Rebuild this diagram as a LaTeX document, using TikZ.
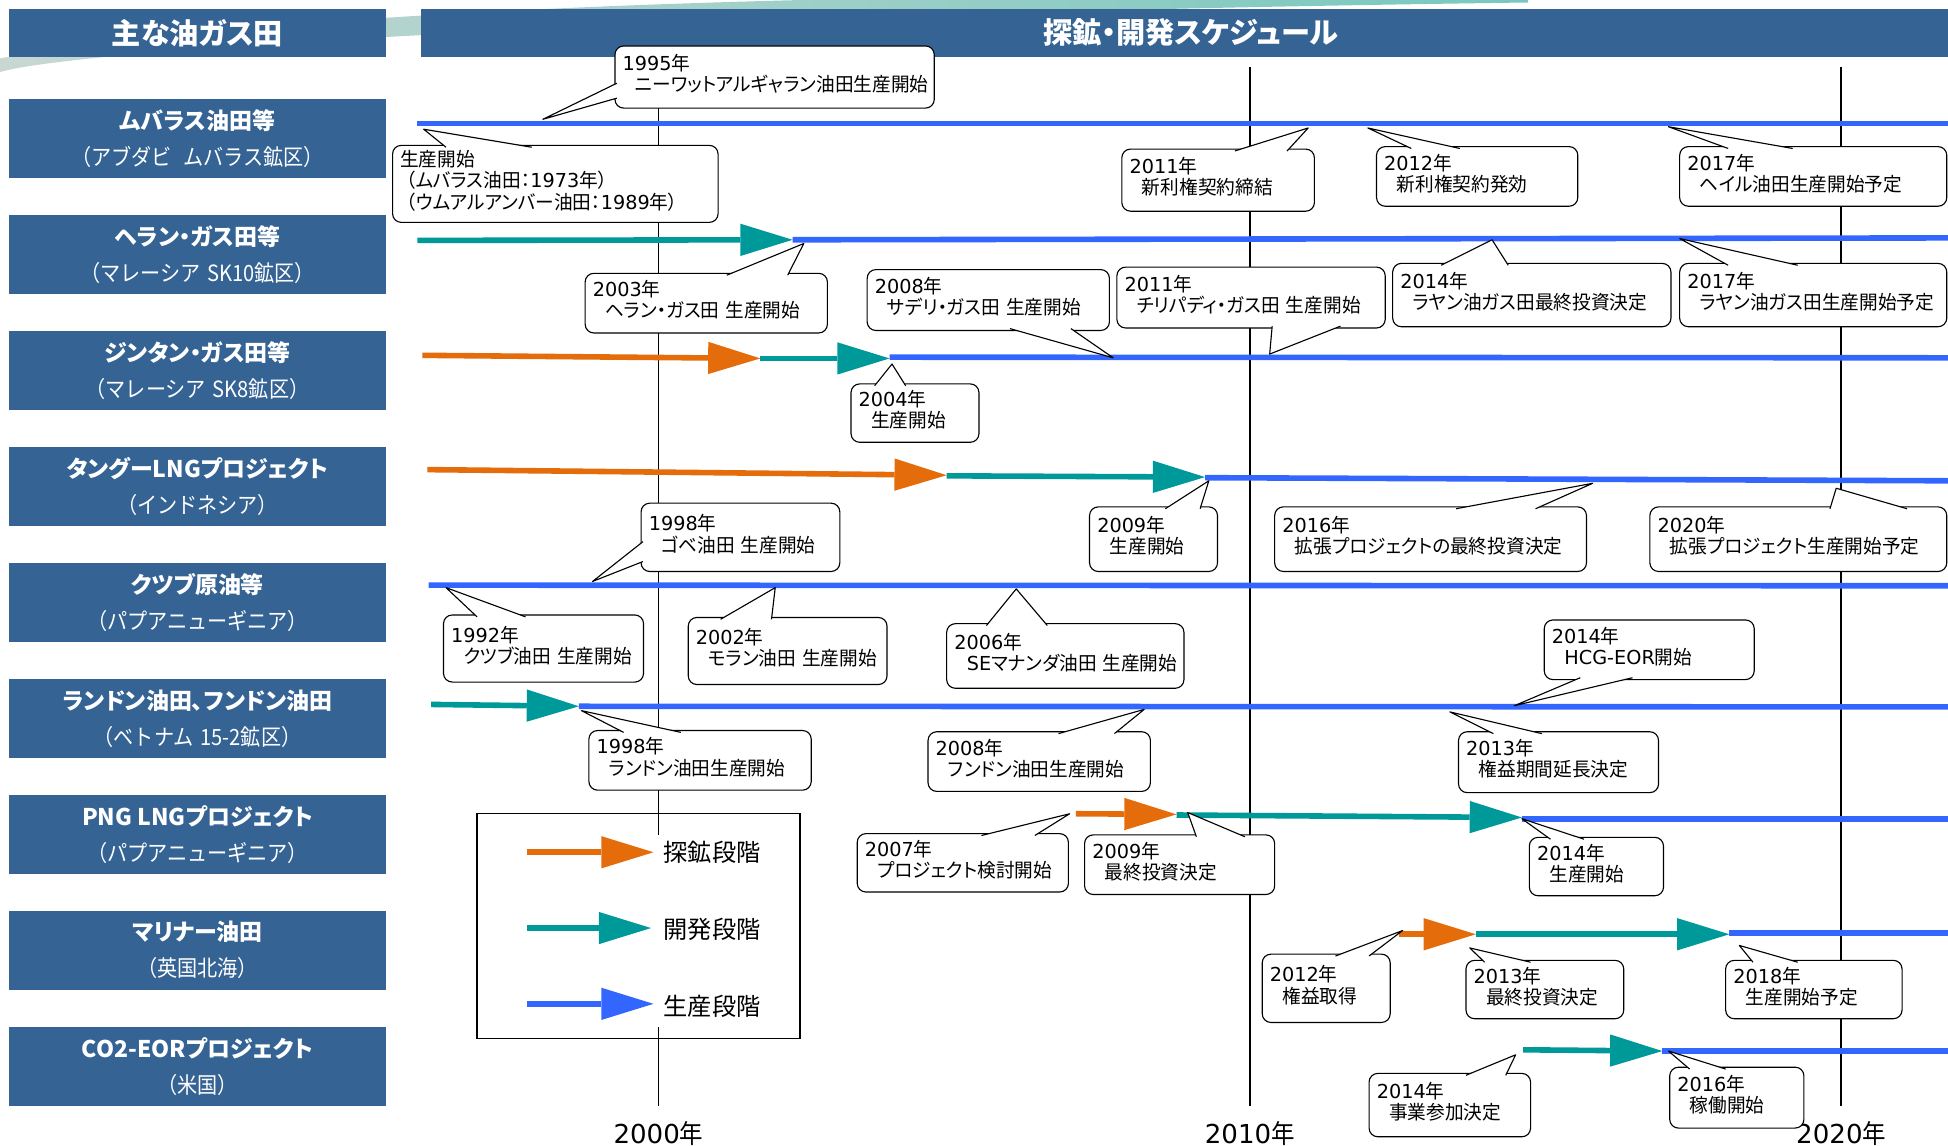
\documentclass[tikz,border=0pt]{standalone}
\usepackage{fontspec}
\setmainfont{Noto Sans CJK JP}
\newfontfamily\pfont{Noto Sans CJK JP}[RawFeature={+palt}]
\newfontfamily\cfont{Noto Sans CJK JP}[RawFeature={+palt},FakeStretch=0.97]
\newfontfamily\sfont{Noto Sans CJK JP}[FakeStretch=0.9]
\newfontfamily\latf{DejaVu Sans}
\usetikzlibrary{arrows.meta}
\definecolor{boxblue}{RGB}{52,99,148}
\definecolor{barblue}{RGB}{51,102,255}
\definecolor{barteal}{RGB}{0,153,153}
\definecolor{barorange}{RGB}{228,108,10}
\definecolor{swoosh}{RGB}{120,200,190}
\definecolor{swooshl}{RGB}{200,215,212}
\newcommand\yr[1]{{\latf #1}年}
\newcommand\gp{\hspace{0.3em}}
\newcommand\ind{\hspace*{10pt}}
% name, x1, y1, x2, y2, base1, tip, base2, text
\newcommand\callout[9]{%
  \filldraw[cbox] (#2,#3) rectangle (#4,#5);
  \filldraw[cptr] #6 -- #7 -- #8;
  \node[ctext] (#1) at ({#2+6},{(#3+#5)/2-2.5}) {#9};
}
\newcommand\ttl[1]{{\fontsize{18.5}{29}\pfont\bfseries #1}}
\begin{document}
\begin{tikzpicture}[x=1pt,y=-1pt,
  hdr/.style={fill=boxblue,text=white,inner sep=0pt,minimum height=39pt,font=\fontsize{23.5}{28}\pfont\bfseries},
  lbl/.style={fill=boxblue,text=white,inner sep=0pt,minimum width=304pt,minimum height=63.5pt,align=center,font=\fontsize{18}{29}\sfont},
  vline/.style={line width=1.5pt,black},
  bar/.style={line width=4.5pt},
  hd/.style={-{Triangle[length=42pt,width=26pt,line width=0pt]}},
  cbox/.style={draw=black,fill=white,line width=0.9pt,rounded corners=7pt},
  cptr/.style={draw=black,fill=white,line width=0.9pt,line join=round},
  ctext/.style={anchor=west,align=left,inner sep=0pt,font=\fontsize{15.5}{17}\cfont},
  yrlbl/.style={inner sep=0pt,font=\fontsize{21}{24}\sfont},
  legtext/.style={anchor=west,inner sep=0pt,font=\fontsize{19.5}{24}\pfont},
  legbox/.style={draw=black,line width=1pt},
]
\useasboundingbox (0,0) rectangle (1568,922);
% background swoosh
\begin{scope}
\clip (0,0) rectangle (1568,922);
\shade[left color=swooshl, right color=swoosh]
  (0,58) .. controls (60,40) and (500,12) .. (1230,2)
  -- (1230,-4) .. controls (700,-8) and (250,5) .. (0,47) -- cycle;
\end{scope}
% headers
\node[hdr,minimum width=304pt] (H1) at (159,26.5) {主な油ガス田};
\node[hdr,minimum width=1229pt] (H2) at (953.5,26.5) {\hspace*{10pt}探鉱・開発スケジュール};
% row labels
\node[lbl] (L1) at (159,111.75) {\ttl{ムバラス油田等}\\（アブダビ\hspace{0.5em}ムバラス鉱区）};
\node[lbl] (L2) at (159,205.05) {\ttl{ヘラン・ガス田等}\\（マレーシア\gp SK10鉱区）};
\node[lbl] (L3) at (159,298.35) {\ttl{ジンタン・ガス田等}\\（マレーシア\gp SK8鉱区）};
\node[lbl] (L4) at (159,391.65) {\ttl{タングーLNGプロジェクト}\\（インドネシア）};
\node[lbl] (L5) at (159,484.95) {\ttl{クツブ原油等}\\（パプアニューギニア）};
\node[lbl] (L6) at (159,578.25) {\ttl{ランドン油田、フンドン油田}\\（ベトナム\gp 15-2鉱区）};
\node[lbl] (L7) at (159,671.55) {\ttl{PNG LNGプロジェクト}\\（パプアニューギニア）};
\node[lbl] (L8) at (159,764.85) {\ttl{マリナー油田}\\（英国北海）};
\node[lbl] (L9) at (159,858.15) {\ttl{CO2-EORプロジェクト}\\（米国）};
% year axis
\draw[vline] (530,54) coordinate (v0a) -- (530,890) coordinate (v0b);
\draw[vline] (1006,54) coordinate (v1a) -- (1006,890) coordinate (v1b);
\draw[vline] (1482,54) coordinate (v2a) -- (1482,890) coordinate (v2b);
\node[yrlbl] (a2000) at (530,912) {\yr{2000}};
\node[yrlbl] (a2010) at (1006,912) {\yr{2010}};
\node[yrlbl] (a2020) at (1482,912) {\yr{2020}};
% bars
\draw[bar,barblue] (336,99.5) coordinate (r1a) -- (1568,99.5) coordinate (r1b);
\draw[bar,barteal,hd] (336,193.5) coordinate (r2a) -- (638,193) coordinate (r2b);
\draw[bar,barblue] (r2b) -- (1568,191.5) coordinate (r2c);
\draw[bar,barorange,hd] (340,286) coordinate (r3a) -- (612,288.5) coordinate (r3b);
\draw[bar,barteal,hd] (r3b) -- (716,288.5) coordinate (r3c);
\draw[bar,barblue] (716,287.5) -- (1568,288) coordinate (r3d);
\draw[bar,barorange,hd] (344,378) coordinate (r4a) -- (762,382.5) coordinate (r4b);
\draw[bar,barteal,hd] (762,383) -- (970,384) coordinate (r4c);
\draw[bar,barblue] (970,384.5) -- (1568,387) coordinate (r4d);
\draw[bar,barblue] (345,471) coordinate (r5a) -- (1568,471.5) coordinate (r5b);
\draw[bar,barteal,hd] (347,567) coordinate (r6a) -- (466,568.5) coordinate (r6b);
\draw[bar,barblue] (r6b) -- (1568,569) coordinate (r6c);
\draw[bar,barorange,hd] (866,655) coordinate (r7a) -- (947,655.5) coordinate (r7b);
\draw[bar,barteal,hd] (947,656) -- (1225,658) coordinate (r7c);
\draw[bar,barblue] (1225,659) -- (1568,659) coordinate (r7d);
\draw[bar,barorange,hd] (1126,752) coordinate (r8a) -- (1188,752) coordinate (r8b);
\draw[bar,barteal,hd] (r8b) -- (1392,752) coordinate (r8c);
\draw[bar,barblue] (1392,751) -- (1568,751) coordinate (r8d);
\draw[bar,barteal,hd] (1226,845) coordinate (r9a) -- (1338,846) coordinate (r9b);
\draw[bar,barblue] (r9b) -- (1568,846) coordinate (r9c);
% legend
\draw[legbox] (384,655) rectangle (644,836);
\fill[white] (522,672) rectangle (538,827);
\draw[bar,barorange,hd] (424,686) coordinate (g1a) -- (526,686) coordinate (g1b);
\draw[bar,barteal,hd] (424,747) coordinate (g2a) -- (524,747) coordinate (g2b);
\draw[bar,barblue,hd] (424,808) coordinate (g3a) -- (526,808) coordinate (g3b);
\node[legtext] (g1) at (534,686) {探鉱段階};
\node[legtext] (g2) at (534,748) {開発段階};
\node[legtext] (g3) at (534,810) {生産段階};
% callouts
\callout{c1}{495}{37}{752}{87}{(496.5,67)}{(437,96)}{(496.5,79)}{\yr{1995}\\\ind ニーワットアルギャラン油田生産開始}
\callout{c2}{316}{117}{578}{179}{(359,118.5)}{(341,104)}{(428,118.5)}{生産開始\\\hspace*{5pt}（ムバラス油田：\yr{1973}）\\\hspace*{5pt}（ウムアルアンバー油田：\yr{1989}）}
\callout{c3}{903}{120}{1058}{170}{(994,121.5)}{(1053,103)}{(1036,121.5)}{\yr{2011}\\\ind 新利権契約締結}
\callout{c4}{1108}{118}{1270}{166}{(1136,119.5)}{(1101,103)}{(1175,119.5)}{\yr{2012}\\\ind 新利権契約発効}
\callout{c5}{1352}{118}{1567}{166}{(1391,119.5)}{(1343,102)}{(1443,119.5)}{\yr{2017}\\\ind ヘイル油田生産開始予定}
\callout{c6}{471}{220}{666}{268}{(585,221.5)}{(647,196)}{(634,221.5)}{\yr{2003}\\\ind ヘラン・ガス田\gp 生産開始}
\callout{c7}{698}{217}{893}{266}{(813,264.5)}{(896,288)}{(862,264.5)}{\yr{2008}\\\ind サデリ・ガス田\gp 生産開始}
\callout{c8}{899}{215}{1115}{264}{(1024,262.5)}{(1022,285)}{(1079,262.5)}{\yr{2011}\\\ind チリパディ・ガス田\gp 生産開始}
\callout{c9}{1121}{212}{1345}{263}{(1160,213.5)}{(1201,193)}{(1214,213.5)}{\yr{2014}\\\ind ラヤン油ガス田最終投資決定}
\callout{c10}{1352}{212}{1567}{263}{(1391,213.5)}{(1352,192)}{(1447,213.5)}{\yr{2017}\\\ind ラヤン油ガス田生産開始予定}
\callout{c11}{685}{309}{788}{356}{(704,310.5)}{(718,293)}{(729,310.5)}{\yr{2004}\\\ind 生産開始}
\callout{c12}{516}{405}{676}{460}{(517.5,436)}{(477,468)}{(517.5,452)}{\yr{1998}\\\ind ゴベ油田\gp 生産開始}
\callout{c13}{877}{408}{980}{460}{(938,409.5)}{(973,387)}{(966,409.5)}{\yr{2009}\\\ind 生産開始}
\callout{c14}{1026}{408}{1277}{460}{(1172,409.5)}{(1282,389)}{(1236,409.5)}{\yr{2016}\\\ind 拡張プロジェクトの最終投資決定}
\callout{c15}{1328}{408}{1567}{460}{(1473,409.5)}{(1478,393)}{(1535,409.5)}{\yr{2020}\\\ind 拡張プロジェクト生産開始予定}
\callout{c16}{357}{495}{518}{549}{(384,496.5)}{(359,473)}{(423,496.5)}{\yr{1992}\\\ind クツブ油田\gp 生産開始}
\callout{c17}{554}{497}{714}{551}{(580,498.5)}{(624,473)}{(621,498.5)}{\yr{2002}\\\ind モラン油田\gp 生産開始}
\callout{c18}{762}{502}{953}{554}{(794,503.5)}{(818,474)}{(843,503.5)}{\yr{2006}\\\ind {\latf SE}マナンダ油田\gp 生産開始}
\callout{c19}{1243}{499}{1412}{547}{(1272,545.5)}{(1219,568)}{(1314,545.5)}{\yr{2014}\\\ind {\latf HCG-EOR}開始}
\callout{c20}{474}{588}{653}{636}{(502,589.5)}{(468,572)}{(548,589.5)}{\yr{1998}\\\ind ランドン油田生産開始}
\callout{c21}{747}{589}{926}{637}{(852,590.5)}{(921,571)}{(897,590.5)}{\yr{2008}\\\ind フンドン油田生産開始}
\callout{c22}{1174}{589}{1335}{638}{(1202,590.5)}{(1167,573)}{(1241,590.5)}{\yr{2013}\\\ind 権益期間延長決定}
\callout{c23}{690}{671}{860}{718}{(790,672.5)}{(861,655)}{(833,672.5)}{\yr{2007}\\\ind プロジェクト検討開始}
\callout{c24}{873}{672}{1026}{720}{(963,673.5)}{(956,654)}{(1002,673.5)}{\yr{2009}\\\ind 最終投資決定}
\callout{c25}{1231}{674}{1339}{721}{(1248,675.5)}{(1225,659)}{(1275,675.5)}{\yr{2014}\\\ind 生産開始}
\callout{c26}{1016}{768}{1119}{823}{(1075,769.5)}{(1129,749)}{(1102,769.5)}{\yr{2012}\\\ind 権益取得}
\callout{c27}{1180}{773}{1307}{820}{(1195,774.5)}{(1183,763)}{(1232,774.5)}{\yr{2013}\\\ind 最終投資決定}
\callout{c28}{1389}{773}{1531}{820}{(1411,774.5)}{(1400,761)}{(1447,774.5)}{\yr{2018}\\\ind 生産開始予定}
\callout{c29}{1102}{864}{1232}{915}{(1180,865.5)}{(1220,849)}{(1212,865.5)}{\yr{2014}\\\ind 事業参加決定}
\callout{c30}{1344}{859}{1452}{908}{(1360,860.5)}{(1343,846)}{(1389,860.5)}{\yr{2016}\\\ind 稼働開始}
\end{tikzpicture}
\end{document}
